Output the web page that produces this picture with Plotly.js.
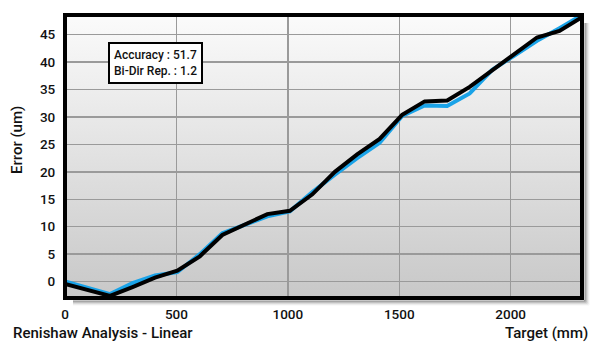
<!DOCTYPE html>
<html>
<head>
<meta charset="utf-8">
<script src="https://cdn.plot.ly/plotly-3.0.1.min.js"></script>
<style>
html,body{margin:0;padding:0;background:#fff;}
#chart{width:592px;height:343px;}
</style>
</head>
<body>
<div id="chart"></div>
<script>
// Target positions (mm)
var targets = [0, 101, 202, 303, 404, 504, 605, 706, 807, 908, 1009, 1110, 1211, 1311, 1412, 1513, 1614, 1715, 1816, 1917, 2017, 2118, 2219, 2320];
// Error (um) - forward run (blue)
var errorBlue = [0.0, -1.1, -2.3, -0.3, 1.1, 1.7, 5.0, 8.8, 10.3, 11.9, 12.8, 16.3, 19.5, 22.5, 25.3, 30.2, 32.1, 32.0, 34.3, 38.6, 41.2, 43.9, 46.2, 48.6];
// Error (um) - reverse run (black)
var errorBlack = [-0.45, -1.5, -2.6, -1.0, 0.7, 2.0, 4.6, 8.5, 10.5, 12.3, 12.9, 15.9, 20.0, 23.2, 26.0, 30.4, 32.85, 33.0, 35.5, 38.5, 41.3, 44.5, 45.7, 48.2];
var xTicks = [0, 500, 1000, 1500, 2000];
var yTicks = [0, 5, 10, 15, 20, 25, 30, 35, 40, 45];
var statsText = ["Accuracy : 51.7", "Bi-Dir Rep. : 1.2"];
var yTitle = "Error (um)";
var xTitle = "Target (mm)";
var chartTitle = "Renishaw Analysis - Linear";

var fam = "Roboto, 'DejaVu Sans Condensed', sans-serif";
var font = {family: fam, size: 13.5, color: "#111", weight: 500};
var titleFont = {family: fam, size: 15, color: "#111", weight: 500};

var traces = [
  {x: targets, y: errorBlue, mode: "lines", line: {color: "#1aa3e8", width: 4}, hoverinfo: "none"},
  {x: targets, y: errorBlack, mode: "lines", line: {color: "#000000", width: 4}, hoverinfo: "none"}
];

var W = 517, H = 283; // plot size in px
var shapes = [];
// shadow lines (bottom-right)
var alphas = [0.45, 0.32, 0.2, 0.1, 0.04];
for (var k = 0; k < alphas.length; k++) {
  var off = 3 + k;
  shapes.push({type: "line", xref: "paper", yref: "paper", x0: 1 + off / W, x1: 1 + off / W, y0: 1 - 8 / H, y1: -off / H,
    line: {color: "rgba(0,0,0," + alphas[k] + ")", width: 1}});
  shapes.push({type: "line", xref: "paper", yref: "paper", x0: 8 / W, x1: 1 + off / W, y0: -off / H, y1: -off / H,
    line: {color: "rgba(0,0,0," + alphas[k] + ")", width: 1}});
}
// frame
shapes.push({type: "rect", xref: "paper", yref: "paper", x0: 0, x1: 1, y0: 0, y1: 1, line: {color: "#000", width: 4}, fillcolor: "rgba(0,0,0,0)"});

var gradSvg = '<svg xmlns="http://www.w3.org/2000/svg" width="100" height="100" preserveAspectRatio="none"><defs><linearGradient id="g" x1="0" y1="0" x2="0" y2="1"><stop offset="0" stop-color="#fbfbfb"/><stop offset="1" stop-color="#c8c8c8"/></linearGradient></defs><rect width="100" height="100" fill="url(#g)"/></svg>';

var layout = {
  width: 592, height: 343,
  margin: {l: 65, r: 10, t: 15, b: 45},
  paper_bgcolor: "#ffffff",
  plot_bgcolor: "rgba(0,0,0,0)",
  showlegend: false,
  font: font,
  images: [{source: "data:image/svg+xml;charset=utf-8," + encodeURIComponent(gradSvg), xref: "paper", yref: "paper",
    x: 0, y: 1, sizex: 1, sizey: 1, sizing: "stretch", xanchor: "left", yanchor: "top", layer: "below"}],
  xaxis: {range: [0, 2320], tickvals: xTicks, ticktext: xTicks.map(String), showgrid: true, gridcolor: "#9a9a9a", gridwidth: 1.5,
    zeroline: false, showline: false, ticks: "", tickfont: font, ticklabelstandoff: 6, fixedrange: true},
  yaxis: {range: [-3, 48.6], tickvals: yTicks, ticktext: yTicks.map(String), showgrid: true, gridcolor: "#9a9a9a", gridwidth: 1.5,
    zeroline: false, showline: false, ticks: "outside", ticklen: 6, tickcolor: "rgba(0,0,0,0)", tickfont: font, fixedrange: true},
  shapes: shapes,
  annotations: [
    {text: statsText.join("<br>"), xref: "paper", yref: "paper", x: 43 / W, y: 1 - 27 / H, xanchor: "left", yanchor: "top",
      showarrow: false, align: "left", bgcolor: "#ffffff", bordercolor: "#000", borderwidth: 2, borderpad: 4,
      font: {family: fam, size: 12, color: "#111", weight: 500}},
    {text: yTitle, xref: "paper", yref: "paper", x: -48 / W, y: (298 - 140) / H, xanchor: "center", yanchor: "middle",
      textangle: -90, showarrow: false, font: titleFont},
    {text: chartTitle, xref: "paper", yref: "paper", x: -54 / W, y: -35 / H, xanchor: "left", yanchor: "middle",
      showarrow: false, font: titleFont},
    {text: xTitle, xref: "paper", yref: "paper", x: 1 + 8 / W, y: -35 / H, xanchor: "right", yanchor: "middle",
      showarrow: false, font: titleFont}
  ]
};

Plotly.newPlot("chart", traces, layout, {staticPlot: true, displayModeBar: false});
</script>
</body>
</html>
